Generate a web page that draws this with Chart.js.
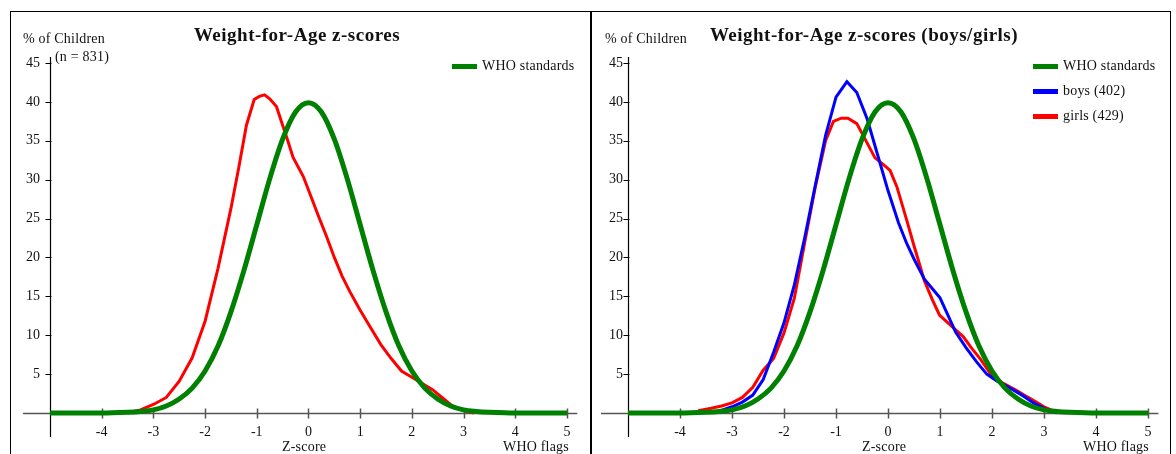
<!DOCTYPE html>
<html>
<head>
<meta charset="utf-8">
<script src="https://cdn.jsdelivr.net/npm/chart.js@4.4.1/dist/chart.umd.min.js"></script>
<style>
  body { margin: 0; background: #fff; width: 1176px; height: 454px; overflow: hidden; position: relative;
         font-family: "Liberation Serif", "Times New Roman", serif; color: #111; }
  .panel { position: absolute; top: 11px; height: 460px; border: 1px solid #000; box-sizing: border-box; }
  canvas { position: absolute; top: 13px; }
  .t { position: absolute; white-space: nowrap; font-size: 14px; line-height: 14px; letter-spacing: 0.2px; }
  .title { position: absolute; width: 400px; text-align: center; white-space: nowrap; font-weight: bold;
           font-size: 19px; line-height: 19px; letter-spacing: 0.5px; }
  .sw { position: absolute; width: 25px; height: 5px; }
</style>
</head>
<body>
<div class="panel" style="left:10px;width:581px;"></div>
<div class="panel" style="left:591px;width:580px;"></div>

<canvas id="allChart" width="578" height="441" style="left:11px;"></canvas>
<canvas id="sexChart" width="578" height="441" style="left:592px;"></canvas>

<div class="title" style="left:97px;top:25px;">Weight-for-Age z-scores</div>
<div class="t" style="left:23px;top:32px;">% of Children</div>
<div class="t" style="left:55px;top:50px;">(n = 831)</div>
<div class="t" style="left:282px;top:440px;">Z-score</div>
<div class="t" style="left:503px;top:440px;">WHO flags</div>

<div class="title" style="left:664px;top:25px;">Weight-for-Age z-scores (boys/girls)</div>
<div class="t" style="left:605px;top:32px;">% of Children</div>
<div class="t" style="left:862px;top:440px;">Z-score</div>
<div class="t" style="left:1083px;top:440px;">WHO flags</div>

<div id="legendLeft"></div>
<div id="legendRight"></div>

<script>
// achsen
const xTicks = [-4, -3, -2, -1, 0, 1, 2, 3, 4, 5];
const yTicks = [5, 10, 15, 20, 25, 30, 35, 40, 45];

// WHO Referenzkurve
const whoZ   = [-5, -4, -3.5, -3.25, -3, -2.75, -2.5, -2.25, -2, -1.75, -1.5, -1.25, -1, -0.75, -0.5, -0.25, 0,
                0.25, 0.5, 0.75, 1, 1.25, 1.5, 1.75, 2, 2.25, 2.5, 2.75, 3, 3.25, 3.5, 4, 5];
const whoPct = [0, 0, 0.1, 0.2, 0.4, 0.9, 1.8, 3.2, 5.4, 8.6, 13.0, 18.3, 24.2, 30.1, 35.2, 38.7, 39.9,
                38.7, 35.2, 30.1, 24.2, 18.3, 13.0, 8.6, 5.4, 3.2, 1.8, 0.9, 0.4, 0.2, 0.1, 0, 0];

// alle Kinder (n = 831)
const allZ   = [-3.45, -3.25, -3, -2.75, -2.5, -2.25, -2, -1.75, -1.5, -1.35, -1.2, -1.05, -0.95, -0.85, -0.75,
                -0.62, -0.5, -0.4, -0.3, -0.1, 0.05, 0.2, 0.35, 0.5, 0.65, 0.8, 1, 1.2, 1.4, 1.6, 1.8, 2,
                2.2, 2.4, 2.6, 2.8, 3, 3.2];
const allPct = [0.1, 0.4, 1.1, 2.0, 4.1, 7.1, 11.8, 18.6, 26.3, 31.5, 37.0, 40.3, 40.7, 40.9, 40.4,
                39.4, 37.0, 35.0, 32.9, 30.4, 27.8, 25.2, 22.7, 20.0, 17.6, 15.6, 13.2, 11.0, 8.8, 7.0, 5.4, 4.6,
                3.8, 3.0, 1.9, 0.8, 0.3, 0];

// Jungen (402)
const boysZ   = [-3.3, -3, -2.8, -2.6, -2.4, -2.2, -2, -1.8, -1.6, -1.4, -1.2, -1, -0.79, -0.6, -0.4, -0.2, 0,
                 0.2, 0.36, 0.5, 0.7, 0.85, 1, 1.15, 1.3, 1.5, 1.7, 1.9, 2.1, 2.4, 2.6, 2.8, 3, 3.25];
const boysPct = [0.1, 0.8, 1.4, 2.3, 4.3, 7.8, 11.6, 16.5, 22.6, 29.2, 35.7, 40.6, 42.6, 41.2, 37.8, 33.2, 28.6,
                 24.5, 21.8, 19.8, 17.2, 16.0, 14.8, 12.6, 10.4, 8.4, 6.6, 5.0, 4.1, 3.0, 2.2, 1.3, 0.6, 0];

// Mädchen (429)
const girlsZ   = [-3.65, -3.4, -3.2, -3, -2.8, -2.6, -2.4, -2.2, -2, -1.8, -1.6, -1.4, -1.2, -1.05, -0.9, -0.77,
                  -0.6, -0.4, -0.25, -0.1, 0.04, 0.17, 0.36, 0.5, 0.7, 0.85, 0.99, 1.2, 1.45, 1.6, 1.77, 2.03,
                  2.28, 2.5, 2.67, 2.85, 3, 3.2];
const girlsPct = [0.3, 0.6, 0.9, 1.3, 2.0, 3.3, 5.5, 7.0, 10.3, 14.8, 22.0, 29.0, 35.0, 37.5, 37.9, 37.9,
                  37.2, 34.7, 32.8, 32.0, 31.2, 29.1, 24.8, 21.5, 17.0, 14.6, 12.6, 11.3, 9.8, 8.4, 7.0, 4.5,
                  3.6, 2.8, 2.1, 1.4, 0.8, 0.2];

const FONT = '"Liberation Serif", "Times New Roman", serif';

function points(zs, vals) {
  return zs.map((z, i) => ({ x: z, y: vals[i] }));
}

function series(label, zs, vals, color, width, smooth) {
  return {
    label: label,
    data: points(zs, vals),
    borderColor: color,
    backgroundColor: color,
    borderWidth: width,
    pointRadius: 0,
    fill: false,
    clip: false,
    tension: smooth ? 0.4 : 0,
    cubicInterpolationMode: smooth ? 'monotone' : 'default'
  };
}

// Achsen selbst zeichnen (Ticks kreuzen die Linie)
const axesPlugin = {
  id: 'axes',
  beforeDatasetsDraw(chart) {
    const ctx = chart.ctx;
    const x = chart.scales.x, y = chart.scales.y;
    const x0 = Math.round(x.getPixelForValue(-5)) + 0.5;
    const y0 = Math.round(y.getPixelForValue(0)) + 0.5;
    ctx.save();
    ctx.strokeStyle = '#555';
    ctx.lineWidth = 1.5;
    ctx.beginPath();
    ctx.moveTo(x.getPixelForValue(-5.52), y0);
    ctx.lineTo(chart.chartArea.right, y0);
    xTicks.forEach(t => {
      const px = Math.round(x.getPixelForValue(t)) + 0.5;
      ctx.moveTo(px, y0 - 5);
      ctx.lineTo(px, y0 + 5);
    });
    ctx.stroke();
    ctx.strokeStyle = '#000';
    ctx.lineWidth = 1.2;
    ctx.beginPath();
    ctx.moveTo(x0, chart.chartArea.top);
    ctx.lineTo(x0, y.getPixelForValue(-3.1));
    yTicks.forEach(t => {
      const py = Math.round(y.getPixelForValue(t)) + 0.5;
      ctx.moveTo(x0 - 5, py);
      ctx.lineTo(x0 + 1, py);
    });
    ctx.stroke();
    ctx.restore();
  }
};

function makeChart(id, datasets, yWidth, yPad, padRight) {
  const ctx = document.getElementById(id).getContext('2d');
  return new Chart(ctx, {
    type: 'line',
    data: { datasets: datasets },
    plugins: [axesPlugin],
    options: {
      responsive: false,
      animation: false,
      events: [],
      devicePixelRatio: 1,
      layout: { padding: { left: 0, right: padRight, top: 44, bottom: 17 } },
      plugins: { legend: { display: false }, tooltip: { enabled: false }, title: { display: false } },
      scales: {
        x: {
          type: 'linear', min: -5, max: 5.2,
          afterBuildTicks: s => { s.ticks = xTicks.map(v => ({ value: v })); },
          afterFit: s => { s.height = 24; },
          grid: { display: false, drawTicks: false, tickLength: 0 },
          border: { display: false },
          ticks: { padding: 11, color: '#111', font: { family: FONT, size: 14 }, maxRotation: 0, autoSkip: false }
        },
        y: {
          type: 'linear', min: 0, max: 45.77,
          afterBuildTicks: s => { s.ticks = yTicks.map(v => ({ value: v })); },
          afterFit: s => { s.width = yWidth; },
          grid: { display: false, drawTicks: false, tickLength: 0 },
          border: { display: false },
          ticks: { padding: yPad, color: '#111', font: { family: FONT, size: 14 }, autoSkip: false }
        }
      }
    }
  });
}

const leftSets = [
  series('WHO standards', whoZ, whoPct, '#008000', 5, true),
  series('all (831)', allZ, allPct, '#ff0000', 3, false)
];
const rightSets = [
  series('WHO standards', whoZ, whoPct, '#008000', 5, true),
  series('boys (402)', boysZ, boysPct, '#0000ff', 3, false),
  series('girls (429)', girlsZ, girlsPct, '#ff0000', 3, false)
];

makeChart('allChart', leftSets, 39, 10, 11.7);
makeChart('sexChart', rightSets, 36, 5, 11.6);

// Legende als HTML
function legend(elId, sets, left, top) {
  const el = document.getElementById(elId);
  let html = '';
  sets.forEach((s, i) => {
    const y = top + i * 25;
    html += '<div class="sw" style="left:' + left + 'px;top:' + (y - 2.5) + 'px;background:' + s.borderColor + '"></div>';
    html += '<div class="t" style="left:' + (left + 30) + 'px;top:' + (y - 7) + 'px">' + s.label + '</div>';
  });
  el.innerHTML = html;
}
legend('legendLeft', leftSets.slice(0, 1), 452, 66);
legend('legendRight', rightSets, 1033, 66);
</script>
</body>
</html>
